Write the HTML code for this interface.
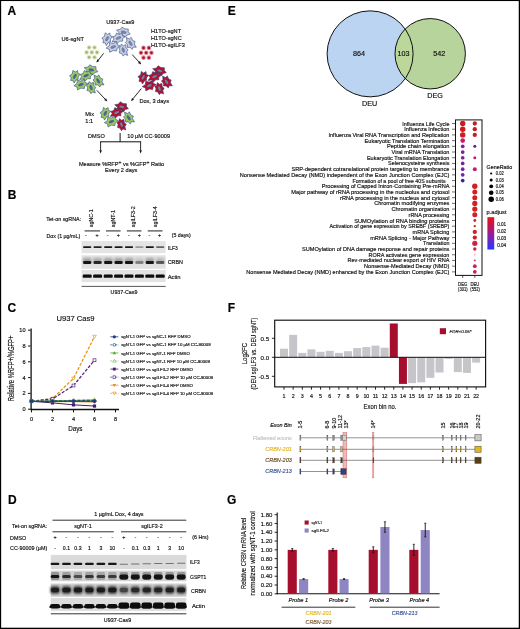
<!DOCTYPE html>
<html><head><meta charset="utf-8"><title>Figure</title>
<style>
html,body{margin:0;padding:0;background:#fff;}
body{width:520px;height:629px;overflow:hidden;position:relative;font-family:"Liberation Sans",sans-serif;}
svg{position:absolute;left:0;top:0;display:block;will-change:transform;}
svg text{font-family:"Liberation Sans",sans-serif;fill:#111;stroke:#111;stroke-width:0.16px;}
</style></head><body>
<svg width="520" height="629" viewBox="0 0 520 629">
<defs>
<filter id="b1" x="-20%" y="-50%" width="140%" height="200%"><feGaussianBlur stdDeviation="0.7"/></filter>
<filter id="b2" x="-20%" y="-50%" width="140%" height="200%"><feGaussianBlur stdDeviation="1.1"/></filter>
<filter id="b0" x="-20%" y="-50%" width="140%" height="200%"><feGaussianBlur stdDeviation="0.45"/></filter>
<linearGradient id="padj" x1="0" y1="0" x2="0" y2="1"><stop offset="0" stop-color="#ea1018"/><stop offset="0.5" stop-color="#9c1c8c"/><stop offset="0.92" stop-color="#3434f8"/><stop offset="1" stop-color="#2a2cff"/></linearGradient>
</defs>
<rect x="0.00" y="0.00" width="520.00" height="629.00" fill="#fff" />
<rect x="0.00" y="0.00" width="520.00" height="1.05" fill="#000" />
<rect x="0.00" y="0.00" width="1.15" height="629.00" fill="#000" />
<rect x="518.75" y="0.00" width="1.25" height="629.00" fill="#000" />
<rect x="0.00" y="627.70" width="520.00" height="1.30" fill="#000" />
<text x="7.40" y="15.32" font-size="12.0" font-weight="bold" style="fill:#000;stroke:#000" >A</text>
<text x="7.80" y="199.32" font-size="12.0" font-weight="bold" style="fill:#000;stroke:#000" >B</text>
<text x="7.40" y="312.12" font-size="12.0" font-weight="bold" style="fill:#000;stroke:#000" >C</text>
<text x="7.90" y="504.32" font-size="12.0" font-weight="bold" style="fill:#000;stroke:#000" >D</text>
<text x="227.70" y="15.12" font-size="12.0" font-weight="bold" style="fill:#000;stroke:#000" >E</text>
<text x="227.70" y="312.12" font-size="12.0" font-weight="bold" style="fill:#000;stroke:#000" >F</text>
<text x="226.90" y="504.32" font-size="12.0" font-weight="bold" style="fill:#000;stroke:#000" >G</text>
<path d="M130.2,34.1 L127.0,35.0 L125.4,37.1 L122.5,35.5 L118.5,35.8 L119.2,32.7 L116.5,30.1 L120.4,29.4 L122.0,27.2 L124.9,28.9 L128.3,29.1 L128.2,31.7Z" fill="#c4cde2" stroke="#33447f" stroke-width="0.6" stroke-linejoin="round"/>
<ellipse cx="123.7" cy="32.2" rx="2.7" ry="1.2" fill="#7b86a6" stroke="#33447f" stroke-width="0.25" transform="rotate(12 123.7 32.2)"/>
<path d="M112.4,36.6 L110.5,39.2 L110.5,41.7 L108.3,42.3 L106.4,45.5 L105.1,42.8 L102.9,42.8 L103.5,40.1 L101.9,38.0 L104.5,36.4 L105.2,32.8 L107.5,34.4 L109.9,33.0 L110.2,35.7Z" fill="#c4cde2" stroke="#33447f" stroke-width="0.6" stroke-linejoin="round"/>
<ellipse cx="107.1" cy="38.7" rx="2.6" ry="1.2" fill="#7b86a6" stroke="#33447f" stroke-width="0.25" transform="rotate(-62 107.1 38.7)"/>
<path d="M125.2,36.6 L122.6,38.7 L122.8,41.1 L119.7,41.2 L117.4,43.3 L115.9,41.3 L112.0,41.9 L114.0,38.9 L112.4,36.9 L115.5,35.8 L116.6,33.0 L119.3,34.4 L122.3,33.1 L122.4,35.7Z" fill="#c4cde2" stroke="#33447f" stroke-width="0.6" stroke-linejoin="round"/>
<ellipse cx="118.5" cy="38.0" rx="2.7" ry="1.2" fill="#7b86a6" stroke="#33447f" stroke-width="0.25" transform="rotate(-22 118.5 38.0)"/>
<path d="M132.2,49.4 L130.0,47.3 L127.5,47.5 L127.2,44.5 L125.3,42.4 L126.9,40.8 L126.4,37.5 L129.3,39.0 L131.2,37.3 L132.6,40.4 L135.1,41.5 L134.3,44.0 L136.3,47.3 L133.2,47.1Z" fill="#c4cde2" stroke="#33447f" stroke-width="0.6" stroke-linejoin="round"/>
<ellipse cx="130.5" cy="43.3" rx="2.7" ry="1.2" fill="#7b86a6" stroke="#33447f" stroke-width="0.25" transform="rotate(58 130.5 43.3)"/>
<path d="M120.0,45.9 L117.1,48.2 L116.6,51.0 L113.3,50.5 L109.8,52.3 L109.3,49.4 L106.2,48.1 L109.3,45.8 L109.5,42.6 L113.1,43.5 L116.7,41.6 L117.1,44.6Z" fill="#c4cde2" stroke="#33447f" stroke-width="0.6" stroke-linejoin="round"/>
<ellipse cx="113.2" cy="47.0" rx="2.7" ry="1.2" fill="#7b86a6" stroke="#33447f" stroke-width="0.25" transform="rotate(-20 113.2 47.0)"/>
<path d="M123.2,56.1 L121.7,53.5 L119.3,52.9 L119.9,50.1 L118.7,47.6 L120.6,46.6 L121.3,44.0 L123.4,45.7 L125.7,44.7 L126.1,48.0 L128.1,49.8 L126.7,51.8 L127.6,55.4 L124.8,54.3Z" fill="#c4cde2" stroke="#33447f" stroke-width="0.6" stroke-linejoin="round"/>
<ellipse cx="123.3" cy="50.0" rx="2.6" ry="1.2" fill="#7b86a6" stroke="#33447f" stroke-width="0.25" transform="rotate(72 123.3 50.0)"/>
<path d="M97.9,71.7 L94.7,72.6 L93.1,74.7 L90.2,73.1 L86.2,73.4 L86.9,70.3 L84.2,67.7 L88.1,67.0 L89.7,64.8 L92.6,66.5 L96.0,66.7 L95.9,69.3Z" fill="#96ca68" stroke="#33447f" stroke-width="0.6" stroke-linejoin="round"/>
<ellipse cx="91.4" cy="69.8" rx="2.7" ry="1.2" fill="#575c96" stroke="#33447f" stroke-width="0.25" transform="rotate(12 91.4 69.8)"/>
<path d="M80.1,74.2 L78.2,76.8 L78.2,79.3 L76.0,79.9 L74.1,83.1 L72.8,80.4 L70.6,80.4 L71.2,77.7 L69.6,75.6 L72.2,74.0 L72.9,70.4 L75.2,72.0 L77.6,70.6 L77.9,73.3Z" fill="#96ca68" stroke="#33447f" stroke-width="0.6" stroke-linejoin="round"/>
<ellipse cx="74.8" cy="76.3" rx="2.6" ry="1.2" fill="#575c96" stroke="#33447f" stroke-width="0.25" transform="rotate(-62 74.8 76.3)"/>
<path d="M92.9,74.2 L90.3,76.3 L90.5,78.7 L87.4,78.8 L85.1,80.9 L83.6,78.9 L79.7,79.5 L81.7,76.5 L80.1,74.5 L83.2,73.4 L84.3,70.6 L87.0,72.0 L90.0,70.7 L90.1,73.3Z" fill="#96ca68" stroke="#33447f" stroke-width="0.6" stroke-linejoin="round"/>
<ellipse cx="86.2" cy="75.6" rx="2.7" ry="1.2" fill="#575c96" stroke="#33447f" stroke-width="0.25" transform="rotate(-22 86.2 75.6)"/>
<path d="M99.9,87.0 L97.7,84.9 L95.2,85.1 L94.9,82.1 L93.0,80.0 L94.6,78.4 L94.1,75.1 L97.0,76.6 L98.9,74.9 L100.3,78.0 L102.8,79.1 L102.0,81.6 L104.0,84.9 L100.9,84.7Z" fill="#96ca68" stroke="#33447f" stroke-width="0.6" stroke-linejoin="round"/>
<ellipse cx="98.2" cy="80.9" rx="2.7" ry="1.2" fill="#575c96" stroke="#33447f" stroke-width="0.25" transform="rotate(58 98.2 80.9)"/>
<path d="M87.7,83.5 L84.8,85.8 L84.3,88.6 L81.0,88.1 L77.5,89.9 L77.0,87.0 L73.9,85.7 L77.0,83.4 L77.2,80.2 L80.8,81.1 L84.4,79.2 L84.8,82.2Z" fill="#96ca68" stroke="#33447f" stroke-width="0.6" stroke-linejoin="round"/>
<ellipse cx="80.9" cy="84.6" rx="2.7" ry="1.2" fill="#575c96" stroke="#33447f" stroke-width="0.25" transform="rotate(-20 80.9 84.6)"/>
<path d="M90.9,93.7 L89.4,91.1 L87.0,90.5 L87.6,87.7 L86.4,85.2 L88.3,84.2 L89.0,81.6 L91.1,83.3 L93.4,82.3 L93.8,85.6 L95.8,87.4 L94.4,89.4 L95.3,93.0 L92.5,91.9Z" fill="#96ca68" stroke="#33447f" stroke-width="0.6" stroke-linejoin="round"/>
<ellipse cx="91.0" cy="87.6" rx="2.6" ry="1.2" fill="#575c96" stroke="#33447f" stroke-width="0.25" transform="rotate(72 91.0 87.6)"/>
<path d="M166.3,72.7 L163.1,73.6 L161.5,75.7 L158.6,74.1 L154.6,74.4 L155.3,71.3 L152.6,68.7 L156.5,68.0 L158.1,65.8 L161.0,67.5 L164.4,67.7 L164.3,70.3Z" fill="#b3112d" stroke="#33447f" stroke-width="0.6" stroke-linejoin="round"/>
<ellipse cx="159.8" cy="70.8" rx="2.7" ry="1.2" fill="#6f8ba6" stroke="#33447f" stroke-width="0.25" transform="rotate(12 159.8 70.8)"/>
<path d="M148.5,75.2 L146.6,77.8 L146.6,80.3 L144.4,80.9 L142.5,84.1 L141.2,81.4 L139.0,81.4 L139.6,78.7 L138.0,76.6 L140.6,75.0 L141.3,71.4 L143.6,73.0 L146.0,71.6 L146.3,74.3Z" fill="#b3112d" stroke="#33447f" stroke-width="0.6" stroke-linejoin="round"/>
<ellipse cx="143.2" cy="77.3" rx="2.6" ry="1.2" fill="#6f8ba6" stroke="#33447f" stroke-width="0.25" transform="rotate(-62 143.2 77.3)"/>
<path d="M161.3,75.2 L158.7,77.3 L158.9,79.7 L155.8,79.8 L153.5,81.9 L152.0,79.9 L148.1,80.5 L150.1,77.5 L148.5,75.5 L151.6,74.4 L152.7,71.6 L155.4,73.0 L158.4,71.7 L158.5,74.3Z" fill="#b3112d" stroke="#33447f" stroke-width="0.6" stroke-linejoin="round"/>
<ellipse cx="154.6" cy="76.6" rx="2.7" ry="1.2" fill="#6f8ba6" stroke="#33447f" stroke-width="0.25" transform="rotate(-22 154.6 76.6)"/>
<path d="M168.3,88.0 L166.1,85.9 L163.6,86.1 L163.3,83.1 L161.4,81.0 L163.0,79.4 L162.5,76.1 L165.4,77.6 L167.3,75.9 L168.7,79.0 L171.2,80.1 L170.4,82.6 L172.4,85.9 L169.3,85.7Z" fill="#b3112d" stroke="#33447f" stroke-width="0.6" stroke-linejoin="round"/>
<ellipse cx="166.6" cy="81.9" rx="2.7" ry="1.2" fill="#6f8ba6" stroke="#33447f" stroke-width="0.25" transform="rotate(58 166.6 81.9)"/>
<path d="M156.1,84.5 L153.2,86.8 L152.7,89.6 L149.4,89.1 L145.9,90.9 L145.4,88.0 L142.3,86.7 L145.4,84.4 L145.6,81.2 L149.2,82.1 L152.8,80.2 L153.2,83.2Z" fill="#b3112d" stroke="#33447f" stroke-width="0.6" stroke-linejoin="round"/>
<ellipse cx="149.3" cy="85.6" rx="2.7" ry="1.2" fill="#6f8ba6" stroke="#33447f" stroke-width="0.25" transform="rotate(-20 149.3 85.6)"/>
<path d="M159.3,94.7 L157.8,92.1 L155.4,91.5 L156.0,88.7 L154.8,86.2 L156.7,85.2 L157.4,82.6 L159.5,84.3 L161.8,83.3 L162.2,86.6 L164.2,88.4 L162.8,90.4 L163.7,94.0 L160.9,92.9Z" fill="#b3112d" stroke="#33447f" stroke-width="0.6" stroke-linejoin="round"/>
<ellipse cx="159.4" cy="88.6" rx="2.6" ry="1.2" fill="#6f8ba6" stroke="#33447f" stroke-width="0.25" transform="rotate(72 159.4 88.6)"/>
<path d="M128.4,108.7 L125.2,109.6 L123.6,111.7 L120.7,110.1 L116.7,110.4 L117.4,107.3 L114.7,104.7 L118.6,104.0 L120.2,101.8 L123.1,103.5 L126.5,103.7 L126.4,106.3Z" fill="#b3112d" stroke="#33447f" stroke-width="0.6" stroke-linejoin="round"/>
<ellipse cx="121.9" cy="106.8" rx="2.7" ry="1.2" fill="#6f8ba6" stroke="#33447f" stroke-width="0.25" transform="rotate(12 121.9 106.8)"/>
<path d="M110.6,111.2 L108.7,113.8 L108.7,116.3 L106.5,116.9 L104.6,120.1 L103.3,117.4 L101.1,117.4 L101.7,114.7 L100.1,112.6 L102.7,111.0 L103.4,107.4 L105.7,109.0 L108.1,107.6 L108.4,110.3Z" fill="#96ca68" stroke="#33447f" stroke-width="0.6" stroke-linejoin="round"/>
<ellipse cx="105.3" cy="113.3" rx="2.6" ry="1.2" fill="#575c96" stroke="#33447f" stroke-width="0.25" transform="rotate(-62 105.3 113.3)"/>
<path d="M123.4,111.2 L120.8,113.3 L121.0,115.7 L117.9,115.8 L115.6,117.9 L114.1,115.9 L110.2,116.5 L112.2,113.5 L110.6,111.5 L113.7,110.4 L114.8,107.6 L117.5,109.0 L120.5,107.7 L120.6,110.3Z" fill="#b3112d" stroke="#33447f" stroke-width="0.6" stroke-linejoin="round"/>
<ellipse cx="116.7" cy="112.6" rx="2.7" ry="1.2" fill="#6f8ba6" stroke="#33447f" stroke-width="0.25" transform="rotate(-22 116.7 112.6)"/>
<path d="M130.4,124.0 L128.2,121.9 L125.7,122.1 L125.4,119.1 L123.5,117.0 L125.1,115.4 L124.6,112.1 L127.5,113.6 L129.4,111.9 L130.8,115.0 L133.3,116.1 L132.5,118.6 L134.5,121.9 L131.4,121.7Z" fill="#96ca68" stroke="#33447f" stroke-width="0.6" stroke-linejoin="round"/>
<ellipse cx="128.7" cy="117.9" rx="2.7" ry="1.2" fill="#575c96" stroke="#33447f" stroke-width="0.25" transform="rotate(58 128.7 117.9)"/>
<path d="M118.2,120.5 L115.3,122.8 L114.8,125.6 L111.5,125.1 L108.0,126.9 L107.5,124.0 L104.4,122.7 L107.5,120.4 L107.7,117.2 L111.3,118.1 L114.9,116.2 L115.3,119.2Z" fill="#96ca68" stroke="#33447f" stroke-width="0.6" stroke-linejoin="round"/>
<ellipse cx="111.4" cy="121.6" rx="2.7" ry="1.2" fill="#575c96" stroke="#33447f" stroke-width="0.25" transform="rotate(-20 111.4 121.6)"/>
<path d="M121.4,130.7 L119.9,128.1 L117.5,127.5 L118.1,124.7 L116.9,122.2 L118.8,121.2 L119.5,118.6 L121.6,120.3 L123.9,119.3 L124.3,122.6 L126.3,124.4 L124.9,126.4 L125.8,130.0 L123.0,128.9Z" fill="#b3112d" stroke="#33447f" stroke-width="0.6" stroke-linejoin="round"/>
<ellipse cx="121.5" cy="124.6" rx="2.6" ry="1.2" fill="#6f8ba6" stroke="#33447f" stroke-width="0.25" transform="rotate(72 121.5 124.6)"/>
<circle cx="89.1" cy="47.5" r="2.35" fill="#dde5c2" filter="url(#b0)"/>
<circle cx="89.1" cy="47.5" r="1.3" fill="#a3b375" filter="url(#b0)"/>
<circle cx="94.5" cy="47.5" r="2.35" fill="#dde5c2" filter="url(#b0)"/>
<circle cx="94.5" cy="47.5" r="1.3" fill="#a3b375" filter="url(#b0)"/>
<circle cx="86.6" cy="52.4" r="2.35" fill="#dde5c2" filter="url(#b0)"/>
<circle cx="86.6" cy="52.4" r="1.3" fill="#a3b375" filter="url(#b0)"/>
<circle cx="91.8" cy="52.4" r="2.35" fill="#dde5c2" filter="url(#b0)"/>
<circle cx="91.8" cy="52.4" r="1.3" fill="#a3b375" filter="url(#b0)"/>
<circle cx="97.0" cy="52.4" r="2.35" fill="#dde5c2" filter="url(#b0)"/>
<circle cx="97.0" cy="52.4" r="1.3" fill="#a3b375" filter="url(#b0)"/>
<circle cx="89.1" cy="57.3" r="2.35" fill="#dde5c2" filter="url(#b0)"/>
<circle cx="89.1" cy="57.3" r="1.3" fill="#a3b375" filter="url(#b0)"/>
<circle cx="94.5" cy="57.3" r="2.35" fill="#dde5c2" filter="url(#b0)"/>
<circle cx="94.5" cy="57.3" r="1.3" fill="#a3b375" filter="url(#b0)"/>
<circle cx="143.5" cy="47.9" r="2.35" fill="#e08f9c" filter="url(#b0)"/>
<circle cx="143.5" cy="47.9" r="1.3" fill="#a60c28" filter="url(#b0)"/>
<circle cx="148.9" cy="47.9" r="2.35" fill="#e08f9c" filter="url(#b0)"/>
<circle cx="148.9" cy="47.9" r="1.3" fill="#a60c28" filter="url(#b0)"/>
<circle cx="141.0" cy="52.8" r="2.35" fill="#e08f9c" filter="url(#b0)"/>
<circle cx="141.0" cy="52.8" r="1.3" fill="#a60c28" filter="url(#b0)"/>
<circle cx="146.2" cy="52.8" r="2.35" fill="#e08f9c" filter="url(#b0)"/>
<circle cx="146.2" cy="52.8" r="1.3" fill="#a60c28" filter="url(#b0)"/>
<circle cx="151.4" cy="52.8" r="2.35" fill="#e08f9c" filter="url(#b0)"/>
<circle cx="151.4" cy="52.8" r="1.3" fill="#a60c28" filter="url(#b0)"/>
<circle cx="143.5" cy="57.7" r="2.35" fill="#e08f9c" filter="url(#b0)"/>
<circle cx="143.5" cy="57.7" r="1.3" fill="#a60c28" filter="url(#b0)"/>
<circle cx="148.9" cy="57.7" r="2.35" fill="#e08f9c" filter="url(#b0)"/>
<circle cx="148.9" cy="57.7" r="1.3" fill="#a60c28" filter="url(#b0)"/>
<line x1="103.60" y1="53.40" x2="98.37" y2="60.08" stroke="#111" stroke-width="0.9" />
<path d="M96.4,62.6 L97.3,59.3 L99.4,60.9Z" fill="#111"/>
<line x1="132.20" y1="54.60" x2="139.04" y2="62.04" stroke="#111" stroke-width="0.9" />
<path d="M141.2,64.4 L138.0,63.0 L140.0,61.1Z" fill="#111"/>
<line x1="96.80" y1="90.30" x2="105.11" y2="99.17" stroke="#111" stroke-width="0.9" />
<path d="M107.3,101.5 L104.1,100.1 L106.1,98.2Z" fill="#111"/>
<line x1="141.30" y1="88.60" x2="133.03" y2="98.72" stroke="#111" stroke-width="0.9" />
<path d="M131.0,101.2 L132.0,97.9 L134.1,99.6Z" fill="#111"/>
<line x1="120.10" y1="133.00" x2="120.10" y2="141.80" stroke="#111" stroke-width="1.0" />
<line x1="100.10" y1="141.80" x2="141.10" y2="141.80" stroke="#111" stroke-width="1.0" />
<line x1="100.60" y1="141.80" x2="100.60" y2="150.30" stroke="#111" stroke-width="0.9" />
<path d="M100.6,153.5 L99.3,150.3 L101.9,150.3Z" fill="#111"/>
<line x1="140.60" y1="141.80" x2="140.60" y2="150.30" stroke="#111" stroke-width="0.9" />
<path d="M140.6,153.5 L139.3,150.3 L141.9,150.3Z" fill="#111"/>
<text x="120.30" y="23.62" font-size="5.6" text-anchor="middle" >U937-Cas9</text>
<text x="61.50" y="41.32" font-size="5.6" >U6-sgNT</text>
<text x="151.00" y="33.32" font-size="5.6" >H1TO-sgNT</text>
<text x="151.00" y="40.22" font-size="5.6" >H1TO-sgNC</text>
<text x="151.00" y="47.02" font-size="5.6" >H1TO-sgILF3</text>
<text x="139.40" y="102.82" font-size="5.6" >Dox, 3 days</text>
<text x="85.30" y="116.32" font-size="5.6" >Mix</text>
<text x="85.30" y="123.02" font-size="5.6" >1:1</text>
<text x="88.00" y="137.72" font-size="5.6" >DMSO</text>
<text x="127.30" y="137.72" font-size="5.6" >10 µM CC-90009</text>
<text x="121.5" y="166.02" font-size="5.6" text-anchor="middle">Measure %RFP<tspan dy="-2.2" font-size="5">+</tspan><tspan dy="2.2"> vs %GFP</tspan><tspan dy="-2.2" font-size="5">+</tspan><tspan dy="2.2"> Ratio</tspan></text>
<text x="121.20" y="172.42" font-size="5.6" text-anchor="middle" >Every 2 days</text>
<circle cx="370.1" cy="53.85" r="43" fill="#bad4f1"/>
<circle cx="430.2" cy="53.75" r="35.2" fill="#b7d49c"/>
<clipPath id="cpv"><circle cx="430.2" cy="53.75" r="35.2"/></clipPath>
<circle cx="370.1" cy="53.85" r="43" fill="#bcd79a" clip-path="url(#cpv)"/>
<circle cx="370.1" cy="53.85" r="43" fill="none" stroke="#111" stroke-width="1.0"/>
<circle cx="430.2" cy="53.75" r="35.2" fill="none" stroke="#111" stroke-width="1.0"/>
<text x="359.00" y="55.79" font-size="7.2" text-anchor="middle" >864</text>
<text x="403.40" y="55.79" font-size="7.2" text-anchor="middle" >103</text>
<text x="439.20" y="55.79" font-size="7.2" text-anchor="middle" >542</text>
<text x="369.60" y="105.79" font-size="7.2" text-anchor="middle" >DEU</text>
<text x="435.00" y="97.59" font-size="7.2" text-anchor="middle" >DEG</text>
<text x="449.40" y="125.50" font-size="5.55" text-anchor="end" textLength="47.1" lengthAdjust="spacingAndGlyphs" >Influenza Life Cycle</text>
<line x1="452.00" y1="123.50" x2="455.50" y2="123.50" stroke="#111" stroke-width="0.6" />
<text x="449.40" y="131.20" font-size="5.55" text-anchor="end" textLength="45.2" lengthAdjust="spacingAndGlyphs" >Influenza Infection</text>
<line x1="452.00" y1="129.21" x2="455.50" y2="129.21" stroke="#111" stroke-width="0.6" />
<text x="449.40" y="136.91" font-size="5.55" text-anchor="end" textLength="120.9" lengthAdjust="spacingAndGlyphs" >Influenza Viral RNA Transcription and Replication</text>
<line x1="452.00" y1="134.91" x2="455.50" y2="134.91" stroke="#111" stroke-width="0.6" />
<text x="449.40" y="142.62" font-size="5.55" text-anchor="end" textLength="84.8" lengthAdjust="spacingAndGlyphs" >Eukaryotic Translation Termination</text>
<line x1="452.00" y1="140.62" x2="455.50" y2="140.62" stroke="#111" stroke-width="0.6" />
<text x="449.40" y="148.32" font-size="5.55" text-anchor="end" textLength="62.5" lengthAdjust="spacingAndGlyphs" >Peptide chain elongation</text>
<line x1="452.00" y1="146.32" x2="455.50" y2="146.32" stroke="#111" stroke-width="0.6" />
<text x="449.40" y="154.03" font-size="5.55" text-anchor="end" textLength="57.9" lengthAdjust="spacingAndGlyphs" >Viral mRNA Translation</text>
<line x1="452.00" y1="152.03" x2="455.50" y2="152.03" stroke="#111" stroke-width="0.6" />
<text x="449.40" y="159.73" font-size="5.55" text-anchor="end" textLength="82.5" lengthAdjust="spacingAndGlyphs" >Eukaryotic Translation Elongation</text>
<line x1="452.00" y1="157.74" x2="455.50" y2="157.74" stroke="#111" stroke-width="0.6" />
<text x="449.40" y="165.44" font-size="5.55" text-anchor="end" textLength="61.4" lengthAdjust="spacingAndGlyphs" >Selenocysteine synthesis</text>
<line x1="452.00" y1="163.44" x2="455.50" y2="163.44" stroke="#111" stroke-width="0.6" />
<text x="449.40" y="171.15" font-size="5.55" text-anchor="end" textLength="157.9" lengthAdjust="spacingAndGlyphs" >SRP-dependent cotranslational protein targeting to membrance</text>
<line x1="452.00" y1="169.15" x2="455.50" y2="169.15" stroke="#111" stroke-width="0.6" />
<text x="449.40" y="176.85" font-size="5.55" text-anchor="end" textLength="209.6" lengthAdjust="spacingAndGlyphs" >Nonsense Mediated Decay (NMD) independent of the Exon Junction Complex (EJC)</text>
<line x1="452.00" y1="174.85" x2="455.50" y2="174.85" stroke="#111" stroke-width="0.6" />
<text x="445.60" y="182.56" font-size="5.55" text-anchor="end" textLength="93.1" lengthAdjust="spacingAndGlyphs" >Formation of a pool of free 40S subunits</text>
<line x1="452.00" y1="180.56" x2="455.50" y2="180.56" stroke="#111" stroke-width="0.6" />
<text x="449.40" y="188.26" font-size="5.55" text-anchor="end" textLength="127.6" lengthAdjust="spacingAndGlyphs" >Processing of Capped Intron-Containing Pre-mRNA</text>
<line x1="452.00" y1="186.27" x2="455.50" y2="186.27" stroke="#111" stroke-width="0.6" />
<text x="449.40" y="193.97" font-size="5.55" text-anchor="end" textLength="158.1" lengthAdjust="spacingAndGlyphs" >Major pathway of rRNA processing in the nucleolus and cytosol</text>
<line x1="452.00" y1="191.97" x2="455.50" y2="191.97" stroke="#111" stroke-width="0.6" />
<text x="449.40" y="199.68" font-size="5.55" text-anchor="end" textLength="109.4" lengthAdjust="spacingAndGlyphs" >rRNA processing in the nucleus  and cytosol</text>
<line x1="452.00" y1="197.68" x2="455.50" y2="197.68" stroke="#111" stroke-width="0.6" />
<text x="449.40" y="205.38" font-size="5.55" text-anchor="end" textLength="75.2" lengthAdjust="spacingAndGlyphs" >Chromatin modifying enzymes</text>
<line x1="452.00" y1="203.38" x2="455.50" y2="203.38" stroke="#111" stroke-width="0.6" />
<text x="449.40" y="211.09" font-size="5.55" text-anchor="end" textLength="58.0" lengthAdjust="spacingAndGlyphs" >Chromatin organization</text>
<line x1="452.00" y1="209.09" x2="455.50" y2="209.09" stroke="#111" stroke-width="0.6" />
<text x="449.40" y="216.79" font-size="5.55" text-anchor="end" textLength="40.8" lengthAdjust="spacingAndGlyphs" >rRNA processing</text>
<line x1="452.00" y1="214.80" x2="455.50" y2="214.80" stroke="#111" stroke-width="0.6" />
<text x="449.40" y="222.50" font-size="5.55" text-anchor="end" textLength="95.2" lengthAdjust="spacingAndGlyphs" >SUMOylation of RNA binding proteins</text>
<line x1="452.00" y1="220.50" x2="455.50" y2="220.50" stroke="#111" stroke-width="0.6" />
<text x="449.40" y="228.21" font-size="5.55" text-anchor="end" textLength="119.9" lengthAdjust="spacingAndGlyphs" >Activation of gene expression by SREBF (SREBP)</text>
<line x1="452.00" y1="226.21" x2="455.50" y2="226.21" stroke="#111" stroke-width="0.6" />
<text x="449.40" y="233.91" font-size="5.55" text-anchor="end" textLength="36.8" lengthAdjust="spacingAndGlyphs" >mRNA Splicing</text>
<line x1="452.00" y1="231.91" x2="455.50" y2="231.91" stroke="#111" stroke-width="0.6" />
<text x="449.40" y="239.62" font-size="5.55" text-anchor="end" textLength="79.2" lengthAdjust="spacingAndGlyphs" >mRNA Splicing - Major Pathway</text>
<line x1="452.00" y1="237.62" x2="455.50" y2="237.62" stroke="#111" stroke-width="0.6" />
<text x="449.40" y="245.32" font-size="5.55" text-anchor="end" textLength="26.3" lengthAdjust="spacingAndGlyphs" >Translation</text>
<line x1="452.00" y1="243.33" x2="455.50" y2="243.33" stroke="#111" stroke-width="0.6" />
<text x="449.40" y="251.03" font-size="5.55" text-anchor="end" textLength="147.4" lengthAdjust="spacingAndGlyphs" >SUMOylation of DNA damage response and repair proteins</text>
<line x1="452.00" y1="249.03" x2="455.50" y2="249.03" stroke="#111" stroke-width="0.6" />
<text x="449.40" y="256.74" font-size="5.55" text-anchor="end" textLength="80.8" lengthAdjust="spacingAndGlyphs" >RORA activates gene expression</text>
<line x1="452.00" y1="254.74" x2="455.50" y2="254.74" stroke="#111" stroke-width="0.6" />
<text x="449.40" y="262.44" font-size="5.55" text-anchor="end" textLength="101.9" lengthAdjust="spacingAndGlyphs" >Rev-mediated nuclear export of HIV RNA</text>
<line x1="452.00" y1="260.44" x2="455.50" y2="260.44" stroke="#111" stroke-width="0.6" />
<text x="449.40" y="268.15" font-size="5.55" text-anchor="end" textLength="85.4" lengthAdjust="spacingAndGlyphs" >Nonsense-Mediated Decay (NMD)</text>
<line x1="452.00" y1="266.15" x2="455.50" y2="266.15" stroke="#111" stroke-width="0.6" />
<text x="449.40" y="273.85" font-size="5.55" text-anchor="end" textLength="203.1" lengthAdjust="spacingAndGlyphs" >Nonsense Mediated Decay (NMD) enhanced by the Exon Junction Complex (EJC)</text>
<line x1="452.00" y1="271.86" x2="455.50" y2="271.86" stroke="#111" stroke-width="0.6" />
<rect x="455.50" y="119.90" width="26.50" height="155.50" fill="none" stroke="#111" stroke-width="1.0" />
<circle cx="462.70" cy="123.50" r="2.70" fill="#cf1a20" />
<circle cx="462.70" cy="129.21" r="2.70" fill="#cf1a20" />
<circle cx="462.70" cy="134.91" r="2.70" fill="#cf1a20" />
<circle cx="462.70" cy="140.62" r="2.30" fill="#c9186a" />
<circle cx="462.70" cy="146.32" r="1.85" fill="#7c2292" />
<circle cx="462.70" cy="152.03" r="1.85" fill="#7c2292" />
<circle cx="462.70" cy="157.74" r="1.85" fill="#7c2292" />
<circle cx="462.70" cy="163.44" r="1.85" fill="#7c2292" />
<circle cx="462.70" cy="169.15" r="1.85" fill="#76249a" />
<circle cx="462.70" cy="174.85" r="1.85" fill="#76249a" />
<circle cx="462.70" cy="180.56" r="1.85" fill="#38259a" />
<circle cx="474.80" cy="123.50" r="2.15" fill="#cf1a20" />
<circle cx="474.80" cy="129.21" r="2.15" fill="#cf1a20" />
<circle cx="474.80" cy="134.91" r="2.15" fill="#cf1a20" />
<circle cx="474.80" cy="146.32" r="1.50" fill="#5a2296" />
<circle cx="474.80" cy="157.74" r="1.50" fill="#cc1a62" />
<circle cx="474.80" cy="169.15" r="2.00" fill="#cc1a6a" />
<circle cx="474.80" cy="186.27" r="2.70" fill="#d32024" />
<circle cx="474.80" cy="191.97" r="2.50" fill="#d32024" />
<circle cx="474.80" cy="197.68" r="2.50" fill="#d32024" />
<circle cx="474.80" cy="203.38" r="2.60" fill="#d32024" />
<circle cx="474.80" cy="209.09" r="2.60" fill="#d32024" />
<circle cx="474.80" cy="214.80" r="2.50" fill="#d32024" />
<circle cx="474.80" cy="220.50" r="1.40" fill="#d32024" />
<circle cx="474.80" cy="226.21" r="1.15" fill="#d32024" />
<circle cx="474.80" cy="231.91" r="2.15" fill="#d32024" />
<circle cx="474.80" cy="237.62" r="2.15" fill="#d32024" />
<circle cx="474.80" cy="243.33" r="2.60" fill="#d4203c" />
<circle cx="474.80" cy="249.03" r="1.70" fill="#d21c50" />
<circle cx="474.80" cy="254.74" r="0.55" fill="#d21c60" />
<circle cx="474.80" cy="260.44" r="0.90" fill="#d01c64" />
<circle cx="474.80" cy="266.15" r="1.90" fill="#cf1c5e" />
<circle cx="474.80" cy="271.86" r="1.90" fill="#cd1c62" />
<line x1="462.70" y1="275.40" x2="462.70" y2="277.90" stroke="#111" stroke-width="0.7" />
<line x1="474.80" y1="275.40" x2="474.80" y2="277.90" stroke="#111" stroke-width="0.7" />
<text x="462.70" y="285.56" font-size="4.9" text-anchor="middle" textLength="9.2" lengthAdjust="spacingAndGlyphs" >DEG</text>
<text x="474.90" y="285.56" font-size="4.9" text-anchor="middle" textLength="8.9" lengthAdjust="spacingAndGlyphs" >DEU</text>
<text x="462.80" y="290.63" font-size="4.8" text-anchor="middle" textLength="9.5" lengthAdjust="spacingAndGlyphs" >(301)</text>
<text x="475.10" y="290.63" font-size="4.8" text-anchor="middle" textLength="9.5" lengthAdjust="spacingAndGlyphs" >(552)</text>
<text x="486.60" y="168.64" font-size="5.4" textLength="25.7" lengthAdjust="spacingAndGlyphs" >GeneRatio</text>
<circle cx="491.20" cy="173.50" r="1.10" fill="#000" />
<text x="495.80" y="175.19" font-size="4.7" textLength="7.9" lengthAdjust="spacingAndGlyphs" >0.02</text>
<circle cx="491.20" cy="179.92" r="1.50" fill="#000" />
<text x="495.80" y="181.61" font-size="4.7" textLength="7.9" lengthAdjust="spacingAndGlyphs" >0.03</text>
<circle cx="491.20" cy="186.34" r="1.90" fill="#000" />
<text x="495.80" y="188.03" font-size="4.7" textLength="7.9" lengthAdjust="spacingAndGlyphs" >0.04</text>
<circle cx="491.20" cy="192.76" r="2.30" fill="#000" />
<text x="495.80" y="194.45" font-size="4.7" textLength="7.9" lengthAdjust="spacingAndGlyphs" >0.05</text>
<circle cx="491.20" cy="199.18" r="2.75" fill="#000" />
<text x="495.80" y="200.87" font-size="4.7" textLength="7.9" lengthAdjust="spacingAndGlyphs" >0.06</text>
<text x="486.60" y="214.24" font-size="5.4" textLength="19.9" lengthAdjust="spacingAndGlyphs" >p.adjust</text>
<rect x="487.40" y="217.20" width="6.80" height="32.30" fill="url(#padj)" />
<text x="497.20" y="226.36" font-size="4.9" textLength="9" lengthAdjust="spacingAndGlyphs" >0.01</text>
<text x="497.20" y="233.39" font-size="4.9" textLength="9" lengthAdjust="spacingAndGlyphs" >0.02</text>
<text x="497.20" y="240.42" font-size="4.9" textLength="9" lengthAdjust="spacingAndGlyphs" >0.03</text>
<text x="497.20" y="247.45" font-size="4.9" textLength="9" lengthAdjust="spacingAndGlyphs" >0.04</text>
<text x="46.20" y="220.61" font-size="5.3" textLength="35" lengthAdjust="spacingAndGlyphs" >Tet-on sgRNA:</text>
<text transform="translate(93.4,227.2) rotate(-90)" font-size="5.3">sgNC-1</text>
<text transform="translate(115.4,227.2) rotate(-90)" font-size="5.3">sgNT-1</text>
<text transform="translate(134.9,227.2) rotate(-90)" font-size="5.3">sgILF3-2</text>
<text transform="translate(156.9,227.2) rotate(-90)" font-size="5.3">sgILF3-4</text>
<line x1="84.60" y1="230.90" x2="100.00" y2="230.90" stroke="#444" stroke-width="1.2" />
<line x1="106.00" y1="230.90" x2="120.60" y2="230.90" stroke="#444" stroke-width="1.2" />
<line x1="126.80" y1="230.90" x2="141.50" y2="230.90" stroke="#444" stroke-width="1.2" />
<line x1="147.70" y1="230.90" x2="162.50" y2="230.90" stroke="#444" stroke-width="1.2" />
<text x="46.50" y="237.51" font-size="5.3" >Dox (1 µg/mL)</text>
<text x="85.80" y="237.31" font-size="5.3" text-anchor="middle" >-</text>
<text x="97.00" y="237.31" font-size="5.3" text-anchor="middle" >+</text>
<text x="107.70" y="237.31" font-size="5.3" text-anchor="middle" >-</text>
<text x="118.30" y="237.31" font-size="5.3" text-anchor="middle" >+</text>
<text x="128.80" y="237.31" font-size="5.3" text-anchor="middle" >-</text>
<text x="139.20" y="237.31" font-size="5.3" text-anchor="middle" >+</text>
<text x="149.30" y="237.31" font-size="5.3" text-anchor="middle" >-</text>
<text x="159.60" y="237.31" font-size="5.3" text-anchor="middle" >+</text>
<text x="171.70" y="237.41" font-size="5.3" textLength="19" lengthAdjust="spacingAndGlyphs" >(5 days)</text>
<rect x="81.50" y="241.10" width="84.20" height="12.10" fill="#e4e4e4" />
<rect x="81.50" y="255.30" width="84.20" height="13.50" fill="#e1e1e1" />
<rect x="81.50" y="270.00" width="84.20" height="12.00" fill="#e3e3e3" />
<rect x="83.10" y="246.25" width="8.20" height="1.70" rx="0.85" fill="#0a0a0a" opacity="0.95" filter="url(#b0)"/>
<rect x="93.50" y="246.25" width="8.20" height="1.70" rx="0.85" fill="#0a0a0a" opacity="0.9" filter="url(#b0)"/>
<rect x="104.10" y="246.25" width="8.20" height="1.70" rx="0.85" fill="#0a0a0a" opacity="0.95" filter="url(#b0)"/>
<rect x="114.50" y="246.25" width="8.20" height="1.70" rx="0.85" fill="#0a0a0a" opacity="0.95" filter="url(#b0)"/>
<rect x="124.90" y="246.25" width="8.20" height="1.70" rx="0.85" fill="#0a0a0a" opacity="0.95" filter="url(#b0)"/>
<rect x="135.30" y="246.25" width="8.20" height="1.70" rx="0.85" fill="#0a0a0a" opacity="0.35" filter="url(#b0)"/>
<rect x="145.70" y="246.25" width="8.20" height="1.70" rx="0.85" fill="#0a0a0a" opacity="0.95" filter="url(#b0)"/>
<rect x="156.10" y="246.25" width="8.20" height="1.70" rx="0.85" fill="#0a0a0a" opacity="0.6" filter="url(#b0)"/>
<rect x="83.10" y="261.00" width="8.20" height="3.00" rx="1.20" fill="#0a0a0a" opacity="0.95" filter="url(#b1)"/>
<rect x="83.00" y="258.10" width="8.40" height="5.00" rx="1.20" fill="#0a0a0a" opacity="0.285" filter="url(#b2)"/>
<rect x="93.50" y="261.00" width="8.20" height="3.00" rx="1.20" fill="#0a0a0a" opacity="0.85" filter="url(#b1)"/>
<rect x="93.40" y="258.10" width="8.40" height="5.00" rx="1.20" fill="#0a0a0a" opacity="0.255" filter="url(#b2)"/>
<rect x="104.10" y="261.00" width="8.20" height="3.00" rx="1.20" fill="#0a0a0a" opacity="0.95" filter="url(#b1)"/>
<rect x="104.00" y="258.10" width="8.40" height="5.00" rx="1.20" fill="#0a0a0a" opacity="0.285" filter="url(#b2)"/>
<rect x="114.50" y="261.00" width="8.20" height="3.00" rx="1.20" fill="#0a0a0a" opacity="0.95" filter="url(#b1)"/>
<rect x="114.40" y="258.10" width="8.40" height="5.00" rx="1.20" fill="#0a0a0a" opacity="0.285" filter="url(#b2)"/>
<rect x="124.90" y="261.00" width="8.20" height="3.00" rx="1.20" fill="#0a0a0a" opacity="0.95" filter="url(#b1)"/>
<rect x="124.80" y="258.10" width="8.40" height="5.00" rx="1.20" fill="#0a0a0a" opacity="0.285" filter="url(#b2)"/>
<rect x="135.30" y="261.00" width="8.20" height="3.00" rx="1.20" fill="#0a0a0a" opacity="0.4" filter="url(#b1)"/>
<rect x="135.20" y="258.10" width="8.40" height="5.00" rx="1.20" fill="#0a0a0a" opacity="0.12" filter="url(#b2)"/>
<rect x="145.70" y="261.00" width="8.20" height="3.00" rx="1.20" fill="#0a0a0a" opacity="0.95" filter="url(#b1)"/>
<rect x="145.60" y="258.10" width="8.40" height="5.00" rx="1.20" fill="#0a0a0a" opacity="0.285" filter="url(#b2)"/>
<rect x="156.10" y="261.00" width="8.20" height="3.00" rx="1.20" fill="#0a0a0a" opacity="0.6" filter="url(#b1)"/>
<rect x="156.00" y="258.10" width="8.40" height="5.00" rx="1.20" fill="#0a0a0a" opacity="0.18" filter="url(#b2)"/>
<rect x="82.70" y="274.55" width="9.00" height="3.30" rx="1.20" fill="#0a0a0a" opacity="1" filter="url(#b1)"/>
<rect x="93.10" y="274.55" width="9.00" height="3.30" rx="1.20" fill="#0a0a0a" opacity="1" filter="url(#b1)"/>
<rect x="103.70" y="274.55" width="9.00" height="3.30" rx="1.20" fill="#0a0a0a" opacity="1" filter="url(#b1)"/>
<rect x="114.10" y="274.55" width="9.00" height="3.30" rx="1.20" fill="#0a0a0a" opacity="1" filter="url(#b1)"/>
<rect x="124.50" y="274.55" width="9.00" height="3.30" rx="1.20" fill="#0a0a0a" opacity="1" filter="url(#b1)"/>
<rect x="134.90" y="274.55" width="9.00" height="3.30" rx="1.20" fill="#0a0a0a" opacity="1" filter="url(#b1)"/>
<rect x="145.30" y="274.55" width="9.00" height="3.30" rx="1.20" fill="#0a0a0a" opacity="1" filter="url(#b1)"/>
<rect x="155.70" y="274.55" width="9.00" height="3.30" rx="1.20" fill="#0a0a0a" opacity="1" filter="url(#b1)"/>
<text x="168.00" y="249.51" font-size="5.3" textLength="9.6" lengthAdjust="spacingAndGlyphs" >ILF3</text>
<text x="167.70" y="264.41" font-size="5.3" textLength="15.2" lengthAdjust="spacingAndGlyphs" >CRBN</text>
<text x="167.70" y="278.91" font-size="5.3" textLength="12.9" lengthAdjust="spacingAndGlyphs" >Actin</text>
<line x1="81.50" y1="286.40" x2="165.70" y2="286.40" stroke="#111" stroke-width="0.7" />
<text x="124.00" y="294.11" font-size="5.3" text-anchor="middle" >U937-Cas9</text>
<text x="75.50" y="321.44" font-size="7.6" text-anchor="middle" >U937 Cas9</text>
<line x1="31.10" y1="328.50" x2="31.10" y2="409.90" stroke="#111" stroke-width="1.3" />
<line x1="30.50" y1="409.50" x2="119.00" y2="409.50" stroke="#111" stroke-width="1.3" />
<line x1="28.00" y1="409.20" x2="30.60" y2="409.20" stroke="#111" stroke-width="1.0" />
<text x="25.60" y="411.22" font-size="5.6" text-anchor="end" >0</text>
<line x1="28.00" y1="393.40" x2="30.60" y2="393.40" stroke="#111" stroke-width="1.0" />
<text x="25.60" y="395.42" font-size="5.6" text-anchor="end" >2</text>
<line x1="28.00" y1="377.60" x2="30.60" y2="377.60" stroke="#111" stroke-width="1.0" />
<text x="25.60" y="379.62" font-size="5.6" text-anchor="end" >4</text>
<line x1="28.00" y1="361.80" x2="30.60" y2="361.80" stroke="#111" stroke-width="1.0" />
<text x="25.60" y="363.82" font-size="5.6" text-anchor="end" >6</text>
<line x1="28.00" y1="346.00" x2="30.60" y2="346.00" stroke="#111" stroke-width="1.0" />
<text x="25.60" y="348.02" font-size="5.6" text-anchor="end" >8</text>
<line x1="28.00" y1="330.20" x2="30.60" y2="330.20" stroke="#111" stroke-width="1.0" />
<text x="25.60" y="332.22" font-size="5.6" text-anchor="end" >10</text>
<line x1="31.50" y1="409.50" x2="31.50" y2="412.40" stroke="#111" stroke-width="1.0" />
<text x="31.50" y="420.52" font-size="5.6" text-anchor="middle" >0</text>
<line x1="52.50" y1="409.50" x2="52.50" y2="412.40" stroke="#111" stroke-width="1.0" />
<text x="52.50" y="420.52" font-size="5.6" text-anchor="middle" >2</text>
<line x1="73.50" y1="409.50" x2="73.50" y2="412.40" stroke="#111" stroke-width="1.0" />
<text x="73.50" y="420.52" font-size="5.6" text-anchor="middle" >4</text>
<line x1="94.50" y1="409.50" x2="94.50" y2="412.40" stroke="#111" stroke-width="1.0" />
<text x="94.50" y="420.52" font-size="5.6" text-anchor="middle" >6</text>
<line x1="115.50" y1="409.50" x2="115.50" y2="412.40" stroke="#111" stroke-width="1.0" />
<text x="115.50" y="420.52" font-size="5.6" text-anchor="middle" >8</text>
<text transform="translate(11.2,368.4) rotate(-90) scale(0.75,1)" font-size="8.2" text-anchor="middle" y="2.9" textLength="87.6" lengthAdjust="spacingAndGlyphs">Relative %RFP+/%GFP+</text>
<text transform="translate(75.3,428.7) scale(0.83,1)" font-size="7.6" text-anchor="middle" y="2.6">Days</text>
<polyline points="31.50,401.30 52.50,401.69 73.50,401.69 94.50,402.09" fill="none" stroke="#e2921e" stroke-width="1.0"/>
<path d="M31.50,403.28 L33.48,399.86 L29.52,399.86Z" fill="#e2921e"/>
<path d="M52.50,403.68 L54.48,400.25 L50.52,400.25Z" fill="#e2921e"/>
<path d="M73.50,403.68 L75.48,400.25 L71.52,400.25Z" fill="#e2921e"/>
<path d="M94.50,404.07 L96.48,400.65 L92.52,400.65Z" fill="#e2921e"/>
<polyline points="31.50,401.30 52.50,398.53 73.50,378.39 94.50,336.52" fill="none" stroke="#e5961f" stroke-width="1.3" stroke-dasharray="3.1 1.5"/>
<path d="M31.50,403.10 L33.30,400.04 L29.70,400.04Z" fill="#fff" stroke="#e5961f" stroke-width="0.7"/>
<path d="M52.50,400.33 L54.30,397.27 L50.70,397.27Z" fill="#fff" stroke="#e5961f" stroke-width="0.7"/>
<path d="M73.50,380.19 L75.30,377.13 L71.70,377.13Z" fill="#fff" stroke="#e5961f" stroke-width="0.7"/>
<path d="M94.50,338.32 L96.30,335.26 L92.70,335.26Z" fill="#fff" stroke="#e5961f" stroke-width="0.7"/>
<polyline points="31.50,401.30 52.50,398.93 73.50,385.50 94.50,360.22" fill="none" stroke="#55287c" stroke-width="1.3" stroke-dasharray="3.1 1.5"/>
<rect x="30.06" y="399.86" width="2.88" height="2.88" fill="#fff" stroke="#55287c" stroke-width="0.7" />
<rect x="51.06" y="397.49" width="2.88" height="2.88" fill="#fff" stroke="#55287c" stroke-width="0.7" />
<rect x="72.06" y="384.06" width="2.88" height="2.88" fill="#fff" stroke="#55287c" stroke-width="0.7" />
<rect x="93.06" y="358.78" width="2.88" height="2.88" fill="#fff" stroke="#55287c" stroke-width="0.7" />
<polyline points="31.50,401.30 52.50,402.88 73.50,404.85 94.50,406.04" fill="none" stroke="#4a1a6e" stroke-width="1.0"/>
<rect x="29.88" y="399.68" width="3.24" height="3.24" fill="#4a1a6e" />
<rect x="50.88" y="401.26" width="3.24" height="3.24" fill="#4a1a6e" />
<rect x="71.88" y="403.23" width="3.24" height="3.24" fill="#4a1a6e" />
<rect x="92.88" y="404.42" width="3.24" height="3.24" fill="#4a1a6e" />
<polyline points="31.50,401.30 52.50,400.90 73.50,400.35 94.50,399.72" fill="none" stroke="#7cc04a" stroke-width="1.3" stroke-dasharray="3.1 1.5"/>
<path d="M31.50,399.50 L33.30,402.56 L29.70,402.56Z" fill="#fff" stroke="#7cc04a" stroke-width="0.7"/>
<path d="M52.50,399.10 L54.30,402.16 L50.70,402.16Z" fill="#fff" stroke="#7cc04a" stroke-width="0.7"/>
<path d="M73.50,398.55 L75.30,401.61 L71.70,401.61Z" fill="#fff" stroke="#7cc04a" stroke-width="0.7"/>
<path d="M94.50,397.92 L96.30,400.98 L92.70,400.98Z" fill="#fff" stroke="#7cc04a" stroke-width="0.7"/>
<polyline points="31.50,401.30 52.50,400.90 73.50,400.51 94.50,400.12" fill="none" stroke="#55a630" stroke-width="1.0"/>
<path d="M31.50,399.32 L33.48,402.74 L29.52,402.74Z" fill="#55a630"/>
<path d="M52.50,398.92 L54.48,402.34 L50.52,402.34Z" fill="#55a630"/>
<path d="M73.50,398.53 L75.48,401.95 L71.52,401.95Z" fill="#55a630"/>
<path d="M94.50,398.13 L96.48,401.56 L92.52,401.56Z" fill="#55a630"/>
<polyline points="31.50,401.30 52.50,401.30 73.50,400.90 94.50,400.90" fill="none" stroke="#1f3f80" stroke-width="1.3" stroke-dasharray="3.1 1.5"/>
<circle cx="31.50" cy="401.30" r="1.53" fill="#fff" stroke="#1f3f80" stroke-width="0.7" />
<circle cx="52.50" cy="401.30" r="1.53" fill="#fff" stroke="#1f3f80" stroke-width="0.7" />
<circle cx="73.50" cy="400.90" r="1.53" fill="#fff" stroke="#1f3f80" stroke-width="0.7" />
<circle cx="94.50" cy="400.90" r="1.53" fill="#fff" stroke="#1f3f80" stroke-width="0.7" />
<polyline points="31.50,401.30 52.50,401.30 73.50,401.30 94.50,401.30" fill="none" stroke="#1f3f80" stroke-width="1.0"/>
<circle cx="31.50" cy="401.30" r="1.80" fill="#1f3f80" />
<circle cx="52.50" cy="401.30" r="1.80" fill="#1f3f80" />
<circle cx="73.50" cy="401.30" r="1.80" fill="#1f3f80" />
<circle cx="94.50" cy="401.30" r="1.80" fill="#1f3f80" />
<line x1="110.3" y1="336.80" x2="118.3" y2="336.80" stroke="#1f3f80" stroke-width="0.8"/>
<circle cx="114.30" cy="336.80" r="1.60" fill="#1f3f80" />
<text x="121.20" y="338.36" font-size="4.34" >sgNT-1 GFP vs sgNC-1 RFP DMSO</text>
<line x1="110.3" y1="344.87" x2="118.3" y2="344.87" stroke="#1f3f80" stroke-width="0.8" stroke-dasharray="1.6 0.9"/>
<circle cx="114.30" cy="344.87" r="1.36" fill="#fff" stroke="#1f3f80" stroke-width="0.7" />
<text x="121.20" y="346.43" font-size="4.34" >sgNT-1 GFP vs sgNC-1 RFP 10 µM CC-90009</text>
<line x1="110.3" y1="352.94" x2="118.3" y2="352.94" stroke="#55a630" stroke-width="0.8"/>
<path d="M114.30,351.18 L116.06,354.22 L112.54,354.22Z" fill="#55a630"/>
<text x="121.20" y="354.50" font-size="4.34" >sgNT-1 GFP vs sgNT-1 RFP DMSO</text>
<line x1="110.3" y1="361.01" x2="118.3" y2="361.01" stroke="#7cc04a" stroke-width="0.8" stroke-dasharray="1.6 0.9"/>
<path d="M114.30,359.41 L115.90,362.13 L112.70,362.13Z" fill="#fff" stroke="#7cc04a" stroke-width="0.7"/>
<text x="121.20" y="362.57" font-size="4.34" >sgNT-1 GFP vs sgNT-1 RFP 10 µM CC-90009</text>
<line x1="110.3" y1="369.08" x2="118.3" y2="369.08" stroke="#4a1a6e" stroke-width="0.8"/>
<rect x="112.86" y="367.64" width="2.88" height="2.88" fill="#4a1a6e" />
<text x="121.20" y="370.64" font-size="4.34" >sgNT-1 GFP vs sgILF3-2 RFP DMSO</text>
<line x1="110.3" y1="377.15" x2="118.3" y2="377.15" stroke="#55287c" stroke-width="0.8" stroke-dasharray="1.6 0.9"/>
<rect x="113.02" y="375.87" width="2.56" height="2.56" fill="#fff" stroke="#55287c" stroke-width="0.7" />
<text x="121.20" y="378.71" font-size="4.34" >sgNT-1 GFP vs sgILF3-2 RFP 10 µM CC-90009</text>
<line x1="110.3" y1="385.22" x2="118.3" y2="385.22" stroke="#e2921e" stroke-width="0.8"/>
<path d="M114.30,386.98 L116.06,383.94 L112.54,383.94Z" fill="#e2921e"/>
<text x="121.20" y="386.78" font-size="4.34" >sgNT-1 GFP vs sgILF3-4 RFP DMSO</text>
<line x1="110.3" y1="393.29" x2="118.3" y2="393.29" stroke="#e5961f" stroke-width="0.8" stroke-dasharray="1.6 0.9"/>
<path d="M114.30,394.89 L115.90,392.17 L112.70,392.17Z" fill="#fff" stroke="#e5961f" stroke-width="0.7"/>
<text x="121.20" y="394.85" font-size="4.34" >sgNT-1 GFP vs sgILF3-4 RFP 10 µM CC-90009</text>
<text x="94.20" y="515.74" font-size="5.4" >1 µg/mL Dox, 4 days</text>
<line x1="52.50" y1="520.20" x2="186.30" y2="520.20" stroke="#333" stroke-width="1.0" />
<text x="12.00" y="527.84" font-size="5.4" >Tet-on sgRNA:</text>
<text x="83.00" y="527.84" font-size="5.4" text-anchor="middle" >sgNT-1</text>
<text x="152.00" y="527.84" font-size="5.4" text-anchor="middle" >sgILF3-2</text>
<line x1="52.50" y1="531.80" x2="113.80" y2="531.80" stroke="#333" stroke-width="1.0" />
<line x1="121.00" y1="531.80" x2="186.30" y2="531.80" stroke="#333" stroke-width="1.0" />
<text x="10.00" y="539.54" font-size="5.4" >DMSO</text>
<text x="10.00" y="549.94" font-size="5.4" >CC-90009 (µM)</text>
<text x="55.00" y="539.44" font-size="5.4" text-anchor="middle" >+</text>
<text x="55.00" y="549.67" font-size="5.2" text-anchor="middle" >-</text>
<text x="66.47" y="539.44" font-size="5.4" text-anchor="middle" >-</text>
<text x="66.47" y="549.67" font-size="5.2" text-anchor="middle" >0.1</text>
<text x="77.94" y="539.44" font-size="5.4" text-anchor="middle" >-</text>
<text x="77.94" y="549.67" font-size="5.2" text-anchor="middle" >0.3</text>
<text x="89.41" y="539.44" font-size="5.4" text-anchor="middle" >-</text>
<text x="89.41" y="549.67" font-size="5.2" text-anchor="middle" >1</text>
<text x="100.88" y="539.44" font-size="5.4" text-anchor="middle" >-</text>
<text x="100.88" y="549.67" font-size="5.2" text-anchor="middle" >3</text>
<text x="112.35" y="539.44" font-size="5.4" text-anchor="middle" >-</text>
<text x="112.35" y="549.67" font-size="5.2" text-anchor="middle" >10</text>
<text x="123.82" y="539.44" font-size="5.4" text-anchor="middle" >+</text>
<text x="123.82" y="549.67" font-size="5.2" text-anchor="middle" >-</text>
<text x="135.29" y="539.44" font-size="5.4" text-anchor="middle" >-</text>
<text x="135.29" y="549.67" font-size="5.2" text-anchor="middle" >0.1</text>
<text x="146.76" y="539.44" font-size="5.4" text-anchor="middle" >-</text>
<text x="146.76" y="549.67" font-size="5.2" text-anchor="middle" >0.3</text>
<text x="158.23" y="539.44" font-size="5.4" text-anchor="middle" >-</text>
<text x="158.23" y="549.67" font-size="5.2" text-anchor="middle" >1</text>
<text x="169.70" y="539.44" font-size="5.4" text-anchor="middle" >-</text>
<text x="169.70" y="549.67" font-size="5.2" text-anchor="middle" >3</text>
<text x="181.17" y="539.44" font-size="5.4" text-anchor="middle" >-</text>
<text x="181.17" y="549.67" font-size="5.2" text-anchor="middle" >10</text>
<text x="192.30" y="539.37" font-size="5.2" textLength="16.2" lengthAdjust="spacingAndGlyphs" >(6 Hrs)</text>
<rect x="50.80" y="554.90" width="135.60" height="14.30" fill="#dadada" />
<rect x="50.80" y="570.60" width="135.60" height="10.70" fill="#d3d3d3" />
<rect x="50.80" y="583.50" width="135.60" height="13.30" fill="#cecece" />
<rect x="50.80" y="598.00" width="135.60" height="12.90" fill="#dcdcdc" />
<rect x="50.60" y="562.75" width="8.80" height="2.30" rx="1.15" fill="#0a0a0a" opacity="0.95" filter="url(#b0)"/>
<rect x="62.07" y="562.75" width="8.80" height="2.30" rx="1.15" fill="#0a0a0a" opacity="0.95" filter="url(#b0)"/>
<rect x="73.54" y="562.75" width="8.80" height="2.30" rx="1.15" fill="#0a0a0a" opacity="0.95" filter="url(#b0)"/>
<rect x="85.01" y="562.75" width="8.80" height="2.30" rx="1.15" fill="#0a0a0a" opacity="0.95" filter="url(#b0)"/>
<rect x="96.48" y="562.75" width="8.80" height="2.30" rx="1.15" fill="#0a0a0a" opacity="0.95" filter="url(#b0)"/>
<rect x="107.95" y="562.75" width="8.80" height="2.30" rx="1.15" fill="#0a0a0a" opacity="0.95" filter="url(#b0)"/>
<rect x="119.62" y="563.70" width="8.40" height="1.00" rx="0.50" fill="#0a0a0a" opacity="0.5" filter="url(#b0)"/>
<rect x="131.09" y="563.50" width="8.40" height="1.00" rx="0.50" fill="#0a0a0a" opacity="0.5" filter="url(#b0)"/>
<rect x="142.56" y="563.30" width="8.40" height="1.00" rx="0.50" fill="#0a0a0a" opacity="0.5" filter="url(#b0)"/>
<rect x="154.03" y="563.10" width="8.40" height="1.00" rx="0.50" fill="#0a0a0a" opacity="0.5" filter="url(#b0)"/>
<rect x="165.50" y="562.90" width="8.40" height="1.00" rx="0.50" fill="#0a0a0a" opacity="0.5" filter="url(#b0)"/>
<rect x="176.97" y="562.70" width="8.40" height="1.00" rx="0.50" fill="#0a0a0a" opacity="0.5" filter="url(#b0)"/>
<rect x="50.80" y="572.00" width="8.40" height="8.00" rx="1.50" fill="#0a0a0a" opacity="0.304" filter="url(#b1)"/>
<rect x="50.70" y="575.00" width="8.60" height="3.00" rx="1.50" fill="#0a0a0a" opacity="0.95" filter="url(#b1)"/>
<rect x="62.27" y="572.00" width="8.40" height="8.00" rx="1.50" fill="#0a0a0a" opacity="0.256" filter="url(#b1)"/>
<rect x="62.17" y="575.00" width="8.60" height="3.00" rx="1.50" fill="#0a0a0a" opacity="0.8" filter="url(#b1)"/>
<rect x="73.74" y="572.00" width="8.40" height="8.00" rx="1.50" fill="#0a0a0a" opacity="0.192" filter="url(#b1)"/>
<rect x="73.64" y="575.00" width="8.60" height="3.00" rx="1.50" fill="#0a0a0a" opacity="0.6" filter="url(#b1)"/>
<rect x="85.21" y="572.00" width="8.40" height="8.00" rx="1.50" fill="#0a0a0a" opacity="0.24" filter="url(#b1)"/>
<rect x="85.11" y="575.00" width="8.60" height="3.00" rx="1.50" fill="#0a0a0a" opacity="0.75" filter="url(#b1)"/>
<rect x="96.68" y="572.00" width="8.40" height="8.00" rx="1.50" fill="#0a0a0a" opacity="0.22399999999999998" filter="url(#b1)"/>
<rect x="96.58" y="575.00" width="8.60" height="3.00" rx="1.50" fill="#0a0a0a" opacity="0.7" filter="url(#b1)"/>
<rect x="108.15" y="572.00" width="8.40" height="8.00" rx="1.50" fill="#0a0a0a" opacity="0.22399999999999998" filter="url(#b1)"/>
<rect x="108.05" y="575.00" width="8.60" height="3.00" rx="1.50" fill="#0a0a0a" opacity="0.7" filter="url(#b1)"/>
<rect x="119.62" y="572.00" width="8.40" height="8.00" rx="1.50" fill="#0a0a0a" opacity="0.304" filter="url(#b1)"/>
<rect x="119.22" y="574.60" width="9.20" height="4.80" rx="2.40" fill="#0a0a0a" opacity="0.95" filter="url(#b1)"/>
<rect x="131.09" y="572.00" width="8.40" height="8.00" rx="1.50" fill="#0a0a0a" opacity="0.304" filter="url(#b1)"/>
<rect x="130.69" y="574.60" width="9.20" height="4.80" rx="2.40" fill="#0a0a0a" opacity="0.95" filter="url(#b1)"/>
<rect x="142.56" y="572.00" width="8.40" height="8.00" rx="1.50" fill="#0a0a0a" opacity="0.304" filter="url(#b1)"/>
<rect x="142.16" y="574.60" width="9.20" height="4.80" rx="2.40" fill="#0a0a0a" opacity="0.95" filter="url(#b1)"/>
<rect x="154.03" y="572.00" width="8.40" height="8.00" rx="1.50" fill="#0a0a0a" opacity="0.304" filter="url(#b1)"/>
<rect x="153.63" y="574.60" width="9.20" height="4.80" rx="2.40" fill="#0a0a0a" opacity="0.95" filter="url(#b1)"/>
<rect x="165.50" y="572.00" width="8.40" height="8.00" rx="1.50" fill="#0a0a0a" opacity="0.304" filter="url(#b1)"/>
<rect x="165.10" y="574.60" width="9.20" height="4.80" rx="2.40" fill="#0a0a0a" opacity="0.95" filter="url(#b1)"/>
<rect x="176.97" y="572.00" width="8.40" height="8.00" rx="1.50" fill="#0a0a0a" opacity="0.304" filter="url(#b1)"/>
<rect x="176.57" y="574.60" width="9.20" height="4.80" rx="2.40" fill="#0a0a0a" opacity="0.95" filter="url(#b1)"/>
<rect x="50.30" y="585.90" width="9.40" height="8.00" rx="2.50" fill="#0a0a0a" opacity="0.675" filter="url(#b2)"/>
<rect x="50.70" y="587.80" width="8.60" height="4.40" rx="2.20" fill="#0a0a0a" opacity="0.7200000000000001" filter="url(#b1)"/>
<rect x="61.77" y="585.90" width="9.40" height="8.00" rx="2.50" fill="#0a0a0a" opacity="0.7124999999999999" filter="url(#b2)"/>
<rect x="62.17" y="587.80" width="8.60" height="4.40" rx="2.20" fill="#0a0a0a" opacity="0.76" filter="url(#b1)"/>
<rect x="73.24" y="585.90" width="9.40" height="8.00" rx="2.50" fill="#0a0a0a" opacity="0.7124999999999999" filter="url(#b2)"/>
<rect x="73.64" y="587.80" width="8.60" height="4.40" rx="2.20" fill="#0a0a0a" opacity="0.76" filter="url(#b1)"/>
<rect x="84.71" y="585.90" width="9.40" height="8.00" rx="2.50" fill="#0a0a0a" opacity="0.7124999999999999" filter="url(#b2)"/>
<rect x="85.11" y="587.80" width="8.60" height="4.40" rx="2.20" fill="#0a0a0a" opacity="0.76" filter="url(#b1)"/>
<rect x="96.18" y="585.90" width="9.40" height="8.00" rx="2.50" fill="#0a0a0a" opacity="0.7124999999999999" filter="url(#b2)"/>
<rect x="96.58" y="587.80" width="8.60" height="4.40" rx="2.20" fill="#0a0a0a" opacity="0.76" filter="url(#b1)"/>
<rect x="107.65" y="585.90" width="9.40" height="8.00" rx="2.50" fill="#0a0a0a" opacity="0.7124999999999999" filter="url(#b2)"/>
<rect x="108.05" y="587.80" width="8.60" height="4.40" rx="2.20" fill="#0a0a0a" opacity="0.76" filter="url(#b1)"/>
<rect x="119.12" y="585.90" width="9.40" height="8.00" rx="2.50" fill="#0a0a0a" opacity="0.44999999999999996" filter="url(#b2)"/>
<rect x="119.52" y="587.80" width="8.60" height="4.40" rx="2.20" fill="#0a0a0a" opacity="0.48" filter="url(#b1)"/>
<rect x="130.59" y="585.90" width="9.40" height="8.00" rx="2.50" fill="#0a0a0a" opacity="0.6000000000000001" filter="url(#b2)"/>
<rect x="130.99" y="587.80" width="8.60" height="4.40" rx="2.20" fill="#0a0a0a" opacity="0.6400000000000001" filter="url(#b1)"/>
<rect x="142.06" y="585.90" width="9.40" height="8.00" rx="2.50" fill="#0a0a0a" opacity="0.6375" filter="url(#b2)"/>
<rect x="142.46" y="587.80" width="8.60" height="4.40" rx="2.20" fill="#0a0a0a" opacity="0.68" filter="url(#b1)"/>
<rect x="153.53" y="585.90" width="9.40" height="8.00" rx="2.50" fill="#0a0a0a" opacity="0.6375" filter="url(#b2)"/>
<rect x="153.93" y="587.80" width="8.60" height="4.40" rx="2.20" fill="#0a0a0a" opacity="0.68" filter="url(#b1)"/>
<rect x="165.00" y="585.90" width="9.40" height="8.00" rx="2.50" fill="#0a0a0a" opacity="0.675" filter="url(#b2)"/>
<rect x="165.40" y="587.80" width="8.60" height="4.40" rx="2.20" fill="#0a0a0a" opacity="0.7200000000000001" filter="url(#b1)"/>
<rect x="176.47" y="585.90" width="9.40" height="8.00" rx="2.50" fill="#0a0a0a" opacity="0.675" filter="url(#b2)"/>
<rect x="176.87" y="587.80" width="8.60" height="4.40" rx="2.20" fill="#0a0a0a" opacity="0.7200000000000001" filter="url(#b1)"/>
<rect x="49.90" y="603.90" width="10.20" height="4.60" rx="2.30" fill="#0a0a0a" opacity="1" filter="url(#b1)"/>
<rect x="49.27" y="605.90" width="11.47" height="2.00" rx="1.00" fill="#0a0a0a" opacity="0.8" filter="url(#b1)"/>
<rect x="61.37" y="603.90" width="10.20" height="4.60" rx="2.30" fill="#0a0a0a" opacity="1" filter="url(#b1)"/>
<rect x="60.73" y="605.90" width="11.47" height="2.00" rx="1.00" fill="#0a0a0a" opacity="0.8" filter="url(#b1)"/>
<rect x="72.84" y="603.90" width="10.20" height="4.60" rx="2.30" fill="#0a0a0a" opacity="1" filter="url(#b1)"/>
<rect x="72.20" y="605.90" width="11.47" height="2.00" rx="1.00" fill="#0a0a0a" opacity="0.8" filter="url(#b1)"/>
<rect x="84.31" y="603.90" width="10.20" height="4.60" rx="2.30" fill="#0a0a0a" opacity="1" filter="url(#b1)"/>
<rect x="83.67" y="605.90" width="11.47" height="2.00" rx="1.00" fill="#0a0a0a" opacity="0.8" filter="url(#b1)"/>
<rect x="95.78" y="603.90" width="10.20" height="4.60" rx="2.30" fill="#0a0a0a" opacity="1" filter="url(#b1)"/>
<rect x="95.14" y="605.90" width="11.47" height="2.00" rx="1.00" fill="#0a0a0a" opacity="0.8" filter="url(#b1)"/>
<rect x="107.25" y="603.90" width="10.20" height="4.60" rx="2.30" fill="#0a0a0a" opacity="1" filter="url(#b1)"/>
<rect x="106.61" y="605.90" width="11.47" height="2.00" rx="1.00" fill="#0a0a0a" opacity="0.8" filter="url(#b1)"/>
<rect x="118.52" y="602.50" width="10.60" height="6.20" rx="2.30" fill="#0a0a0a" opacity="1" filter="url(#b1)"/>
<rect x="118.09" y="605.90" width="11.47" height="2.00" rx="1.00" fill="#0a0a0a" opacity="0.8" filter="url(#b1)"/>
<rect x="129.99" y="602.50" width="10.60" height="6.20" rx="2.30" fill="#0a0a0a" opacity="1" filter="url(#b1)"/>
<rect x="129.56" y="605.90" width="11.47" height="2.00" rx="1.00" fill="#0a0a0a" opacity="0.8" filter="url(#b1)"/>
<rect x="141.46" y="602.50" width="10.60" height="6.20" rx="2.30" fill="#0a0a0a" opacity="1" filter="url(#b1)"/>
<rect x="141.02" y="605.90" width="11.47" height="2.00" rx="1.00" fill="#0a0a0a" opacity="0.8" filter="url(#b1)"/>
<rect x="152.93" y="602.50" width="10.60" height="6.20" rx="2.30" fill="#0a0a0a" opacity="1" filter="url(#b1)"/>
<rect x="152.50" y="605.90" width="11.47" height="2.00" rx="1.00" fill="#0a0a0a" opacity="0.8" filter="url(#b1)"/>
<rect x="164.40" y="602.50" width="10.60" height="6.20" rx="2.30" fill="#0a0a0a" opacity="1" filter="url(#b1)"/>
<rect x="163.96" y="605.90" width="11.47" height="2.00" rx="1.00" fill="#0a0a0a" opacity="0.8" filter="url(#b1)"/>
<rect x="175.87" y="602.50" width="10.60" height="6.20" rx="2.30" fill="#0a0a0a" opacity="1" filter="url(#b1)"/>
<rect x="175.44" y="605.90" width="11.47" height="2.00" rx="1.00" fill="#0a0a0a" opacity="0.8" filter="url(#b1)"/>
<text x="190.00" y="564.44" font-size="5.4" textLength="9.8" lengthAdjust="spacingAndGlyphs" >ILF3</text>
<text x="190.00" y="579.24" font-size="5.4" textLength="16.4" lengthAdjust="spacingAndGlyphs" >GSPT1</text>
<text x="190.90" y="592.74" font-size="5.4" textLength="15" lengthAdjust="spacingAndGlyphs" >CRBN</text>
<text x="191.90" y="607.64" font-size="5.4" textLength="13" lengthAdjust="spacingAndGlyphs" >Actin</text>
<line x1="50.80" y1="613.80" x2="186.40" y2="613.80" stroke="#333" stroke-width="1.0" />
<text x="117.50" y="622.24" font-size="5.4" text-anchor="middle" >U937-Cas9</text>
<rect x="274.70" y="320.20" width="210.90" height="66.70" fill="none" stroke="#111" stroke-width="1.15" />
<rect x="280.00" y="348.71" width="8.00" height="8.59" fill="#c6c5ca" />
<line x1="284.00" y1="386.90" x2="284.00" y2="389.70" stroke="#111" stroke-width="0.9" />
<text x="284.00" y="397.91" font-size="5.3" text-anchor="middle" >1</text>
<rect x="289.15" y="334.88" width="8.00" height="22.42" fill="#c6c5ca" />
<line x1="293.15" y1="386.90" x2="293.15" y2="389.70" stroke="#111" stroke-width="0.9" />
<text x="293.15" y="397.91" font-size="5.3" text-anchor="middle" >2</text>
<rect x="298.30" y="352.89" width="8.00" height="4.41" fill="#c6c5ca" />
<line x1="302.30" y1="386.90" x2="302.30" y2="389.70" stroke="#111" stroke-width="0.9" />
<text x="302.30" y="397.91" font-size="5.3" text-anchor="middle" >3</text>
<rect x="307.44" y="349.32" width="8.00" height="7.98" fill="#c6c5ca" />
<line x1="311.44" y1="386.90" x2="311.44" y2="389.70" stroke="#111" stroke-width="0.9" />
<text x="311.44" y="397.91" font-size="5.3" text-anchor="middle" >4</text>
<rect x="316.59" y="351.79" width="8.00" height="5.51" fill="#c6c5ca" />
<line x1="320.59" y1="386.90" x2="320.59" y2="389.70" stroke="#111" stroke-width="0.9" />
<text x="320.59" y="397.91" font-size="5.3" text-anchor="middle" >5</text>
<rect x="325.74" y="350.84" width="8.00" height="6.46" fill="#c6c5ca" />
<line x1="329.74" y1="386.90" x2="329.74" y2="389.70" stroke="#111" stroke-width="0.9" />
<text x="329.74" y="397.91" font-size="5.3" text-anchor="middle" >6</text>
<rect x="334.89" y="352.89" width="8.00" height="4.41" fill="#c6c5ca" />
<line x1="338.89" y1="386.90" x2="338.89" y2="389.70" stroke="#111" stroke-width="0.9" />
<text x="338.89" y="397.91" font-size="5.3" text-anchor="middle" >7</text>
<rect x="344.04" y="351.22" width="8.00" height="6.08" fill="#c6c5ca" />
<line x1="348.04" y1="386.90" x2="348.04" y2="389.70" stroke="#111" stroke-width="0.9" />
<text x="348.04" y="397.91" font-size="5.3" text-anchor="middle" >8</text>
<rect x="353.18" y="348.07" width="8.00" height="9.23" fill="#c6c5ca" />
<line x1="357.18" y1="386.90" x2="357.18" y2="389.70" stroke="#111" stroke-width="0.9" />
<text x="357.18" y="397.91" font-size="5.3" text-anchor="middle" >9</text>
<rect x="362.33" y="347.04" width="8.00" height="10.26" fill="#c6c5ca" />
<line x1="366.33" y1="386.90" x2="366.33" y2="389.70" stroke="#111" stroke-width="0.9" />
<text x="366.33" y="397.91" font-size="5.3" text-anchor="middle" >10</text>
<rect x="371.48" y="345.60" width="8.00" height="11.70" fill="#c6c5ca" />
<line x1="375.48" y1="386.90" x2="375.48" y2="389.70" stroke="#111" stroke-width="0.9" />
<text x="375.48" y="397.91" font-size="5.3" text-anchor="middle" >11</text>
<rect x="380.63" y="347.69" width="8.00" height="9.61" fill="#c6c5ca" />
<line x1="384.63" y1="386.90" x2="384.63" y2="389.70" stroke="#111" stroke-width="0.9" />
<text x="384.63" y="397.91" font-size="5.3" text-anchor="middle" >12</text>
<rect x="389.78" y="323.48" width="8.00" height="33.82" fill="#a50f2d" />
<line x1="393.78" y1="386.90" x2="393.78" y2="389.70" stroke="#111" stroke-width="0.9" />
<text x="393.78" y="397.91" font-size="5.3" text-anchor="middle" >13</text>
<rect x="398.92" y="357.30" width="8.00" height="26.60" fill="#a50f2d" />
<line x1="402.92" y1="386.90" x2="402.92" y2="389.70" stroke="#111" stroke-width="0.9" />
<text x="402.92" y="397.91" font-size="5.3" text-anchor="middle" >14</text>
<rect x="408.07" y="357.30" width="8.00" height="25.84" fill="#c6c5ca" />
<line x1="412.07" y1="386.90" x2="412.07" y2="389.70" stroke="#111" stroke-width="0.9" />
<text x="412.07" y="397.91" font-size="5.3" text-anchor="middle" >15</text>
<rect x="417.22" y="357.30" width="8.00" height="25.08" fill="#c6c5ca" />
<line x1="421.22" y1="386.90" x2="421.22" y2="389.70" stroke="#111" stroke-width="0.9" />
<text x="421.22" y="397.91" font-size="5.3" text-anchor="middle" >16</text>
<rect x="426.37" y="357.30" width="8.00" height="20.52" fill="#c6c5ca" />
<line x1="430.37" y1="386.90" x2="430.37" y2="389.70" stroke="#111" stroke-width="0.9" />
<text x="430.37" y="397.91" font-size="5.3" text-anchor="middle" >17</text>
<rect x="435.52" y="357.30" width="8.00" height="15.20" fill="#c6c5ca" />
<line x1="439.52" y1="386.90" x2="439.52" y2="389.70" stroke="#111" stroke-width="0.9" />
<text x="439.52" y="397.91" font-size="5.3" text-anchor="middle" >18</text>
<rect x="444.66" y="357.30" width="8.00" height="1.71" fill="#c6c5ca" />
<line x1="448.66" y1="386.90" x2="448.66" y2="389.70" stroke="#111" stroke-width="0.9" />
<text x="448.66" y="397.91" font-size="5.3" text-anchor="middle" >19</text>
<rect x="453.81" y="357.30" width="8.00" height="14.82" fill="#c6c5ca" />
<line x1="457.81" y1="386.90" x2="457.81" y2="389.70" stroke="#111" stroke-width="0.9" />
<text x="457.81" y="397.91" font-size="5.3" text-anchor="middle" >20</text>
<rect x="462.96" y="357.30" width="8.00" height="15.58" fill="#c6c5ca" />
<line x1="466.96" y1="386.90" x2="466.96" y2="389.70" stroke="#111" stroke-width="0.9" />
<text x="466.96" y="397.91" font-size="5.3" text-anchor="middle" >21</text>
<rect x="472.11" y="357.30" width="8.00" height="5.32" fill="#c6c5ca" />
<line x1="476.11" y1="386.90" x2="476.11" y2="389.70" stroke="#111" stroke-width="0.9" />
<text x="476.11" y="397.91" font-size="5.3" text-anchor="middle" >22</text>
<line x1="274.70" y1="357.30" x2="485.60" y2="357.30" stroke="#111" stroke-width="1.0" />
<line x1="271.90" y1="338.30" x2="274.70" y2="338.30" stroke="#111" stroke-width="0.9" />
<text x="269.20" y="340.53" font-size="6.2" text-anchor="end" >0.5</text>
<line x1="271.90" y1="357.30" x2="274.70" y2="357.30" stroke="#111" stroke-width="0.9" />
<text x="269.20" y="359.53" font-size="6.2" text-anchor="end" >0.0</text>
<line x1="271.90" y1="376.30" x2="274.70" y2="376.30" stroke="#111" stroke-width="0.9" />
<text x="269.20" y="378.53" font-size="6.2" text-anchor="end" >-0.5</text>
<text transform="translate(243.8,353.6) rotate(-90) scale(0.744,1)" font-size="7.6" text-anchor="middle" y="2.7" textLength="28.5" lengthAdjust="spacingAndGlyphs">Log2FC</text>
<text transform="translate(252.9,353.6) rotate(-90) scale(0.744,1)" font-size="7.6" text-anchor="middle" y="2.7">(DEU sgILF3 vs. DEU sgNT)</text>
<text transform="translate(380,406.6) scale(0.82,1)" font-size="7.2" text-anchor="middle" y="2.5">Exon bin no.</text>
<rect x="439.80" y="328.20" width="6.20" height="6.00" fill="#a50f2d" />
<text x="449.60" y="332.78" font-size="4.4" font-style="italic" >FDR&lt;0.05*</text>
<text x="291.80" y="426.64" font-size="5.4" text-anchor="end" font-style="italic" >Exon Bin</text>
<text x="291.80" y="439.78" font-size="5.5" text-anchor="end" font-style="italic" style="fill:#c4c4c4;stroke:#c4c4c4" >Flattened exons</text>
<text x="291.80" y="451.28" font-size="5.5" text-anchor="end" font-style="italic" style="fill:#e7b61e;stroke:#e7b61e" >CRBN-201</text>
<text x="291.80" y="462.28" font-size="5.5" text-anchor="end" font-style="italic" style="fill:#6b4a20;stroke:#6b4a20" >CRBN-203</text>
<text x="291.80" y="473.48" font-size="5.5" text-anchor="end" font-style="italic" style="fill:#3b5596;stroke:#3b5596" >CRBN-213</text>
<text transform="translate(302.3,428.6) rotate(-90)" font-size="5.5">1-5</text>
<text transform="translate(329.3,428.6) rotate(-90)" font-size="5.5">6-8</text>
<text transform="translate(335.5,428.6) rotate(-90)" font-size="5.5">9-10</text>
<text transform="translate(341.5,428.6) rotate(-90)" font-size="5.5">11-12</text>
<text transform="translate(347.5,428.6) rotate(-90)" font-size="5.5">13*</text>
<text transform="translate(375.3,428.6) rotate(-90)" font-size="5.5">14*</text>
<text transform="translate(444.9,428.6) rotate(-90)" font-size="5.5">15</text>
<text transform="translate(453.6,428.6) rotate(-90)" font-size="5.5">16</text>
<text transform="translate(458.3,428.6) rotate(-90)" font-size="5.5">17</text>
<text transform="translate(462.5,428.6) rotate(-90)" font-size="5.5">18</text>
<text transform="translate(467.5,428.6) rotate(-90)" font-size="5.5">19</text>
<text transform="translate(479.8,428.6) rotate(-90)" font-size="5.5">20-22</text>
<rect x="343.00" y="432.40" width="3.80" height="45.40" fill="#f3b9b9" stroke="#d2686a" stroke-width="0.5" />
<rect x="372.75" y="432.40" width="1.10" height="45.40" fill="#f3b9b9" stroke="#d2686a" stroke-width="0.45" />
<line x1="300.40" y1="437.80" x2="476.00" y2="437.80" stroke="#4a4a4a" stroke-width="0.6" />
<rect x="299.90" y="435.20" width="1.00" height="5.20" fill="#8f8f98" stroke="#444" stroke-width="0.3" />
<rect x="326.90" y="435.20" width="1.00" height="5.20" fill="#8f8f98" stroke="#444" stroke-width="0.3" />
<rect x="332.80" y="435.20" width="1.60" height="5.20" fill="#8f8f98" stroke="#444" stroke-width="0.3" />
<rect x="340.80" y="435.20" width="1.60" height="5.20" fill="#8f8f98" stroke="#444" stroke-width="0.3" />
<rect x="344.00" y="435.20" width="1.40" height="5.20" fill="#c9c9c9" stroke="#555" stroke-width="0.3" />
<rect x="373.00" y="435.20" width="0.80" height="5.20" fill="#c9c9c9" stroke="#333" stroke-width="0.25" />
<rect x="442.55" y="435.20" width="0.90" height="5.20" fill="#8f8f98" stroke="#444" stroke-width="0.3" />
<rect x="451.25" y="435.20" width="0.90" height="5.20" fill="#8f8f98" stroke="#444" stroke-width="0.3" />
<rect x="455.95" y="435.20" width="0.90" height="5.20" fill="#8f8f98" stroke="#444" stroke-width="0.3" />
<rect x="460.15" y="435.20" width="0.90" height="5.20" fill="#8f8f98" stroke="#444" stroke-width="0.3" />
<rect x="465.15" y="435.20" width="0.90" height="5.20" fill="#8f8f98" stroke="#444" stroke-width="0.3" />
<rect x="474.90" y="434.70" width="6.20" height="6.20" fill="#c9c9c9" stroke="#444" stroke-width="0.5" />
<line x1="300.40" y1="449.30" x2="476.00" y2="449.30" stroke="#4a4a4a" stroke-width="0.6" />
<rect x="299.90" y="446.70" width="1.00" height="5.20" fill="#e5b520" stroke="#333" stroke-width="0.3" />
<rect x="326.90" y="446.70" width="1.00" height="5.20" fill="#e5b520" stroke="#333" stroke-width="0.3" />
<rect x="332.80" y="446.70" width="1.60" height="5.20" fill="#e5b520" stroke="#333" stroke-width="0.3" />
<rect x="340.80" y="446.70" width="1.60" height="5.20" fill="#e5b520" stroke="#333" stroke-width="0.3" />
<rect x="373.00" y="446.70" width="0.80" height="5.20" fill="#e5b520" stroke="#333" stroke-width="0.25" />
<rect x="442.55" y="446.70" width="0.90" height="5.20" fill="#e5b520" stroke="#333" stroke-width="0.3" />
<rect x="451.25" y="446.70" width="0.90" height="5.20" fill="#e5b520" stroke="#333" stroke-width="0.3" />
<rect x="455.95" y="446.70" width="0.90" height="5.20" fill="#e5b520" stroke="#333" stroke-width="0.3" />
<rect x="460.15" y="446.70" width="0.90" height="5.20" fill="#e5b520" stroke="#333" stroke-width="0.3" />
<rect x="465.15" y="446.70" width="0.90" height="5.20" fill="#e5b520" stroke="#333" stroke-width="0.3" />
<rect x="474.90" y="446.20" width="6.20" height="6.20" fill="#e5b520" stroke="#444" stroke-width="0.5" />
<line x1="300.40" y1="460.30" x2="476.00" y2="460.30" stroke="#4a4a4a" stroke-width="0.6" />
<rect x="299.90" y="457.70" width="1.00" height="5.20" fill="#5a3c18" stroke="#333" stroke-width="0.3" />
<rect x="326.90" y="457.70" width="1.00" height="5.20" fill="#5a3c18" stroke="#333" stroke-width="0.3" />
<rect x="332.80" y="457.70" width="1.60" height="5.20" fill="#5a3c18" stroke="#333" stroke-width="0.3" />
<rect x="340.80" y="457.70" width="1.60" height="5.20" fill="#5a3c18" stroke="#333" stroke-width="0.3" />
<rect x="373.00" y="457.70" width="0.80" height="5.20" fill="#5a3c18" stroke="#333" stroke-width="0.25" />
<rect x="442.55" y="457.70" width="0.90" height="5.20" fill="#5a3c18" stroke="#333" stroke-width="0.3" />
<rect x="451.25" y="457.70" width="0.90" height="5.20" fill="#5a3c18" stroke="#333" stroke-width="0.3" />
<rect x="455.95" y="457.70" width="0.90" height="5.20" fill="#5a3c18" stroke="#333" stroke-width="0.3" />
<rect x="460.15" y="457.70" width="0.90" height="5.20" fill="#5a3c18" stroke="#333" stroke-width="0.3" />
<rect x="465.15" y="457.70" width="0.90" height="5.20" fill="#5a3c18" stroke="#333" stroke-width="0.3" />
<rect x="474.90" y="457.20" width="6.20" height="6.20" fill="#5a3c18" stroke="#444" stroke-width="0.5" />
<line x1="300.40" y1="471.50" x2="346.00" y2="471.50" stroke="#4a4a4a" stroke-width="0.6" />
<rect x="299.90" y="468.90" width="1.00" height="5.20" fill="#2c4480" stroke="#333" stroke-width="0.3" />
<rect x="326.90" y="468.90" width="1.00" height="5.20" fill="#2c4480" stroke="#333" stroke-width="0.3" />
<rect x="332.80" y="468.90" width="1.60" height="5.20" fill="#2c4480" stroke="#333" stroke-width="0.3" />
<rect x="340.80" y="468.90" width="1.60" height="5.20" fill="#2c4480" stroke="#333" stroke-width="0.3" />
<rect x="341.70" y="468.80" width="4.40" height="5.60" fill="#2c4480" stroke="#223" stroke-width="0.4" />
<rect x="342.70" y="435.10" width="3.50" height="5.40" fill="#cfcfd6" stroke="#666" stroke-width="0.4" />
<line x1="277.20" y1="512.40" x2="277.20" y2="594.30" stroke="#111" stroke-width="1.1" />
<line x1="276.70" y1="593.80" x2="439.60" y2="593.80" stroke="#111" stroke-width="1.1" />
<line x1="274.60" y1="593.80" x2="277.20" y2="593.80" stroke="#111" stroke-width="0.9" />
<text x="272.40" y="595.96" font-size="6.0" text-anchor="end" >0.00</text>
<line x1="274.60" y1="585.01" x2="277.20" y2="585.01" stroke="#111" stroke-width="0.9" />
<text x="272.40" y="587.17" font-size="6.0" text-anchor="end" >0.20</text>
<line x1="274.60" y1="576.22" x2="277.20" y2="576.22" stroke="#111" stroke-width="0.9" />
<text x="272.40" y="578.38" font-size="6.0" text-anchor="end" >0.40</text>
<line x1="274.60" y1="567.43" x2="277.20" y2="567.43" stroke="#111" stroke-width="0.9" />
<text x="272.40" y="569.59" font-size="6.0" text-anchor="end" >0.60</text>
<line x1="274.60" y1="558.64" x2="277.20" y2="558.64" stroke="#111" stroke-width="0.9" />
<text x="272.40" y="560.80" font-size="6.0" text-anchor="end" >0.80</text>
<line x1="274.60" y1="549.85" x2="277.20" y2="549.85" stroke="#111" stroke-width="0.9" />
<text x="272.40" y="552.01" font-size="6.0" text-anchor="end" >1.00</text>
<line x1="274.60" y1="541.06" x2="277.20" y2="541.06" stroke="#111" stroke-width="0.9" />
<text x="272.40" y="543.22" font-size="6.0" text-anchor="end" >1.20</text>
<line x1="274.60" y1="532.27" x2="277.20" y2="532.27" stroke="#111" stroke-width="0.9" />
<text x="272.40" y="534.43" font-size="6.0" text-anchor="end" >1.40</text>
<line x1="274.60" y1="523.48" x2="277.20" y2="523.48" stroke="#111" stroke-width="0.9" />
<text x="272.40" y="525.64" font-size="6.0" text-anchor="end" >1.60</text>
<line x1="274.60" y1="514.69" x2="277.20" y2="514.69" stroke="#111" stroke-width="0.9" />
<text x="272.40" y="516.85" font-size="6.0" text-anchor="end" >1.80</text>
<rect x="287.70" y="549.85" width="9.10" height="43.55" fill="#a50f2d" />
<line x1="292.25" y1="548.53" x2="292.25" y2="551.17" stroke="#111" stroke-width="0.9" />
<line x1="291.15" y1="548.53" x2="293.35" y2="548.53" stroke="#111" stroke-width="0.7" />
<line x1="291.15" y1="551.17" x2="293.35" y2="551.17" stroke="#111" stroke-width="0.7" />
<rect x="299.10" y="579.08" width="9.10" height="14.32" fill="#8e85c3" />
<line x1="303.65" y1="578.55" x2="303.65" y2="579.60" stroke="#111" stroke-width="0.9" />
<line x1="302.55" y1="578.55" x2="304.75" y2="578.55" stroke="#111" stroke-width="0.7" />
<line x1="302.55" y1="579.60" x2="304.75" y2="579.60" stroke="#111" stroke-width="0.7" />
<rect x="328.30" y="549.85" width="9.10" height="43.55" fill="#a50f2d" />
<line x1="332.85" y1="548.53" x2="332.85" y2="551.17" stroke="#111" stroke-width="0.9" />
<line x1="331.75" y1="548.53" x2="333.95" y2="548.53" stroke="#111" stroke-width="0.7" />
<line x1="331.75" y1="551.17" x2="333.95" y2="551.17" stroke="#111" stroke-width="0.7" />
<rect x="339.50" y="579.08" width="9.10" height="14.32" fill="#8e85c3" />
<line x1="344.05" y1="578.55" x2="344.05" y2="579.60" stroke="#111" stroke-width="0.9" />
<line x1="342.95" y1="578.55" x2="345.15" y2="578.55" stroke="#111" stroke-width="0.7" />
<line x1="342.95" y1="579.60" x2="345.15" y2="579.60" stroke="#111" stroke-width="0.7" />
<rect x="368.70" y="549.85" width="9.10" height="43.55" fill="#a50f2d" />
<line x1="373.25" y1="546.77" x2="373.25" y2="552.93" stroke="#111" stroke-width="0.9" />
<line x1="372.15" y1="546.77" x2="374.35" y2="546.77" stroke="#111" stroke-width="0.7" />
<line x1="372.15" y1="552.93" x2="374.35" y2="552.93" stroke="#111" stroke-width="0.7" />
<rect x="380.40" y="527.00" width="9.10" height="66.40" fill="#8e85c3" />
<line x1="384.95" y1="521.72" x2="384.95" y2="532.27" stroke="#111" stroke-width="0.9" />
<line x1="383.85" y1="521.72" x2="386.05" y2="521.72" stroke="#111" stroke-width="0.7" />
<line x1="383.85" y1="532.27" x2="386.05" y2="532.27" stroke="#111" stroke-width="0.7" />
<rect x="409.30" y="549.85" width="9.10" height="43.55" fill="#a50f2d" />
<line x1="413.85" y1="544.31" x2="413.85" y2="555.39" stroke="#111" stroke-width="0.9" />
<line x1="412.75" y1="544.31" x2="414.95" y2="544.31" stroke="#111" stroke-width="0.7" />
<line x1="412.75" y1="555.39" x2="414.95" y2="555.39" stroke="#111" stroke-width="0.7" />
<rect x="420.70" y="530.07" width="9.10" height="63.33" fill="#8e85c3" />
<line x1="425.25" y1="523.26" x2="425.25" y2="536.88" stroke="#111" stroke-width="0.9" />
<line x1="424.15" y1="523.26" x2="426.35" y2="523.26" stroke="#111" stroke-width="0.7" />
<line x1="424.15" y1="536.88" x2="426.35" y2="536.88" stroke="#111" stroke-width="0.7" />
<text x="298.30" y="602.02" font-size="5.6" text-anchor="middle" font-style="italic" >Probe 1</text>
<text x="338.60" y="602.02" font-size="5.6" text-anchor="middle" font-style="italic" >Probe 2</text>
<text x="379.00" y="602.02" font-size="5.6" text-anchor="middle" font-style="italic" >Probe 3</text>
<text x="419.40" y="602.02" font-size="5.6" text-anchor="middle" font-style="italic" >Probe 4</text>
<line x1="281.60" y1="607.20" x2="355.40" y2="607.20" stroke="#333" stroke-width="1.0" />
<line x1="369.80" y1="607.20" x2="439.60" y2="607.20" stroke="#333" stroke-width="1.0" />
<text x="318.50" y="615.13" font-size="5.35" text-anchor="middle" font-style="italic" style="fill:#e7b61e;stroke:#e7b61e" >CRBN-201</text>
<text x="318.50" y="624.33" font-size="5.35" text-anchor="middle" font-style="italic" style="fill:#7d5f3a;stroke:#7d5f3a" >CRBN-203</text>
<text x="404.60" y="615.13" font-size="5.35" text-anchor="middle" font-style="italic" style="fill:#3b5596;stroke:#3b5596" >CRBN-213</text>
<rect x="304.60" y="520.50" width="4.10" height="4.10" fill="#a50f2d" />
<text x="311.60" y="524.08" font-size="4.4" textLength="10.4" lengthAdjust="spacingAndGlyphs" >sgNT-1</text>
<rect x="304.60" y="528.50" width="4.10" height="4.10" fill="#8e85c3" />
<text x="311.60" y="532.08" font-size="4.4" textLength="17.3" lengthAdjust="spacingAndGlyphs" >sgILF3-2</text>
<text transform="translate(243.6,553.4) rotate(-90) scale(0.8,1)" font-size="7.8" text-anchor="middle" y="2.8" textLength="89" lengthAdjust="spacingAndGlyphs">Relative CRBN mRNA level</text>
<text transform="translate(252.1,553.4) rotate(-90) scale(0.8,1)" font-size="7.8" text-anchor="middle" y="2.8" textLength="105.5" lengthAdjust="spacingAndGlyphs">normalized with sgNT-1 control</text>
</svg>
</body></html>
